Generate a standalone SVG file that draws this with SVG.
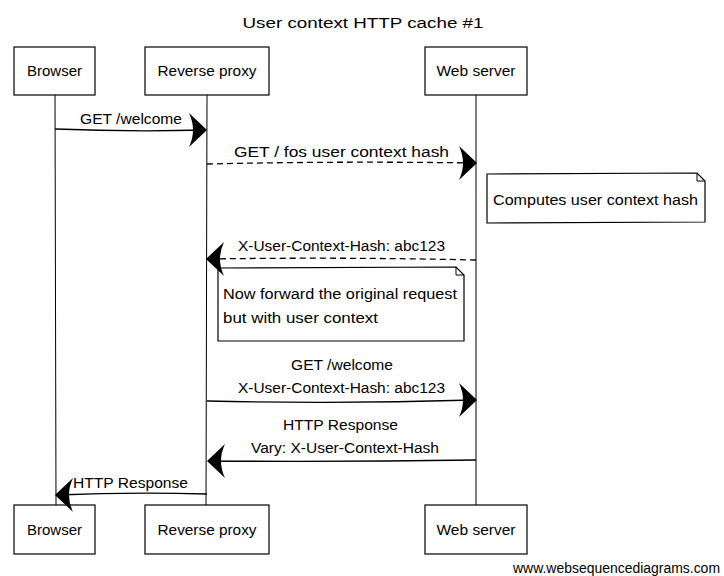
<svg xmlns="http://www.w3.org/2000/svg" width="724" height="576" viewBox="0 0 724 576">
<style>
.t{font-family:"Liberation Sans",Arial,sans-serif;font-size:14px;fill:#000}
.box{fill:#fff;stroke:#000;stroke-width:1.2}
.life{stroke:#000;stroke-width:1;fill:none}
.msg{stroke:#000;stroke-width:1.3;fill:none}
.dash{stroke-dasharray:6,4}
.head{fill:#000;stroke:none}
.wm{font-family:"Liberation Sans",Arial,sans-serif;font-size:14px;fill:#000}
</style>
<defs>
<path id="hr" d="M0,0 L-18,-17 Q-10,0 -18,17 Z"/>
<path id="hl" d="M0,0 L18,-17 Q10,0 18,17 Z"/>
</defs>
<rect x="0" y="0" width="724" height="576" fill="#fff"/>
<text class="t" x="363" y="28" text-anchor="middle" textLength="241" lengthAdjust="spacingAndGlyphs" font-size="15">User context HTTP cache #1</text>

<g id="lifelines">
<line class="life" x1="55" y1="95" x2="56" y2="505"/>
<line class="life" x1="207" y1="95" x2="206" y2="505"/>
<line class="life" x1="476" y1="95" x2="476" y2="505"/>
</g>

<g id="browser-top"><rect class="box" x="14" y="47" width="81" height="48"/><text class="t" x="54.5" y="76" text-anchor="middle" textLength="55" lengthAdjust="spacingAndGlyphs">Browser</text></g>
<g id="proxy-top"><rect class="box" x="145" y="47" width="124" height="48"/><text class="t" x="207" y="76" text-anchor="middle" textLength="99" lengthAdjust="spacingAndGlyphs">Reverse proxy</text></g>
<g id="web-top"><rect class="box" x="425" y="47" width="102" height="48"/><text class="t" x="476" y="76" text-anchor="middle" textLength="79" lengthAdjust="spacingAndGlyphs">Web server</text></g>

<g id="browser-bottom"><rect class="box" x="14" y="505" width="81" height="49"/><text class="t" x="54.5" y="535" text-anchor="middle" textLength="55" lengthAdjust="spacingAndGlyphs">Browser</text></g>
<g id="proxy-bottom"><rect class="box" x="145" y="505" width="124" height="49"/><text class="t" x="207" y="535" text-anchor="middle" textLength="99" lengthAdjust="spacingAndGlyphs">Reverse proxy</text></g>
<g id="web-bottom"><rect class="box" x="425" y="505" width="102" height="49"/><text class="t" x="476" y="535" text-anchor="middle" textLength="79" lengthAdjust="spacingAndGlyphs">Web server</text></g>

<g id="note-compute"><path class="box" d="M487,174 L697,173 L705,181 L705,222 L487,223 Z"/><path class="life" d="M697,173 L697,181 L705,181"/><text class="t" x="493" y="205" textLength="205" lengthAdjust="spacingAndGlyphs">Computes user context hash</text></g>
<g id="note-forward"><path class="box" d="M218,268 L456,267 L464,275 L464,341 L218,341 Z"/><path class="life" d="M456,267 L456,275 L464,275"/><text class="t" x="223" y="299" textLength="234" lengthAdjust="spacingAndGlyphs">Now forward the original request</text><text class="t" x="223" y="323" textLength="155" lengthAdjust="spacingAndGlyphs">but with user context</text></g>

<g id="connectors">
<path class="msg" d="M55,129 Q130,132 205,130"/><use href="#hr" x="207" y="130" class="head"/>
<text class="t" x="80" y="124" textLength="102" lengthAdjust="spacingAndGlyphs">GET /welcome</text>

<path class="msg dash" d="M207,164 Q340,161 474,163"/><use href="#hr" x="477" y="163" class="head"/>
<text class="t" x="234" y="157" textLength="215" lengthAdjust="spacingAndGlyphs">GET / fos user context hash</text>

<path class="msg dash" d="M476,260 Q340,257 209,259"/><use href="#hl" x="206" y="259" class="head"/>
<text class="t" x="238" y="251" textLength="207" lengthAdjust="spacingAndGlyphs">X-User-Context-Hash: abc123</text>

<path class="msg" d="M207,401 Q340,404 474,400"/><use href="#hr" x="477" y="400" class="head"/>
<text class="t" x="291" y="370" textLength="102" lengthAdjust="spacingAndGlyphs">GET /welcome</text>
<text class="t" x="238" y="393" textLength="207" lengthAdjust="spacingAndGlyphs">X-User-Context-Hash: abc123</text>

<path class="msg" d="M476,460 Q340,462 209,461"/><use href="#hl" x="207" y="461" class="head"/>
<text class="t" x="283" y="430" textLength="115" lengthAdjust="spacingAndGlyphs">HTTP Response</text>
<text class="t" x="251" y="453" textLength="188" lengthAdjust="spacingAndGlyphs">Vary: X-User-Context-Hash</text>

<path class="msg" d="M207,494 Q130,492 57,495"/><use href="#hl" x="55" y="495" class="head"/>
<text class="t" x="73" y="488" textLength="115" lengthAdjust="spacingAndGlyphs">HTTP Response</text>
</g>

<text class="wm" x="513" y="573" textLength="207" lengthAdjust="spacingAndGlyphs">www.websequencediagrams.com</text>
</svg>
